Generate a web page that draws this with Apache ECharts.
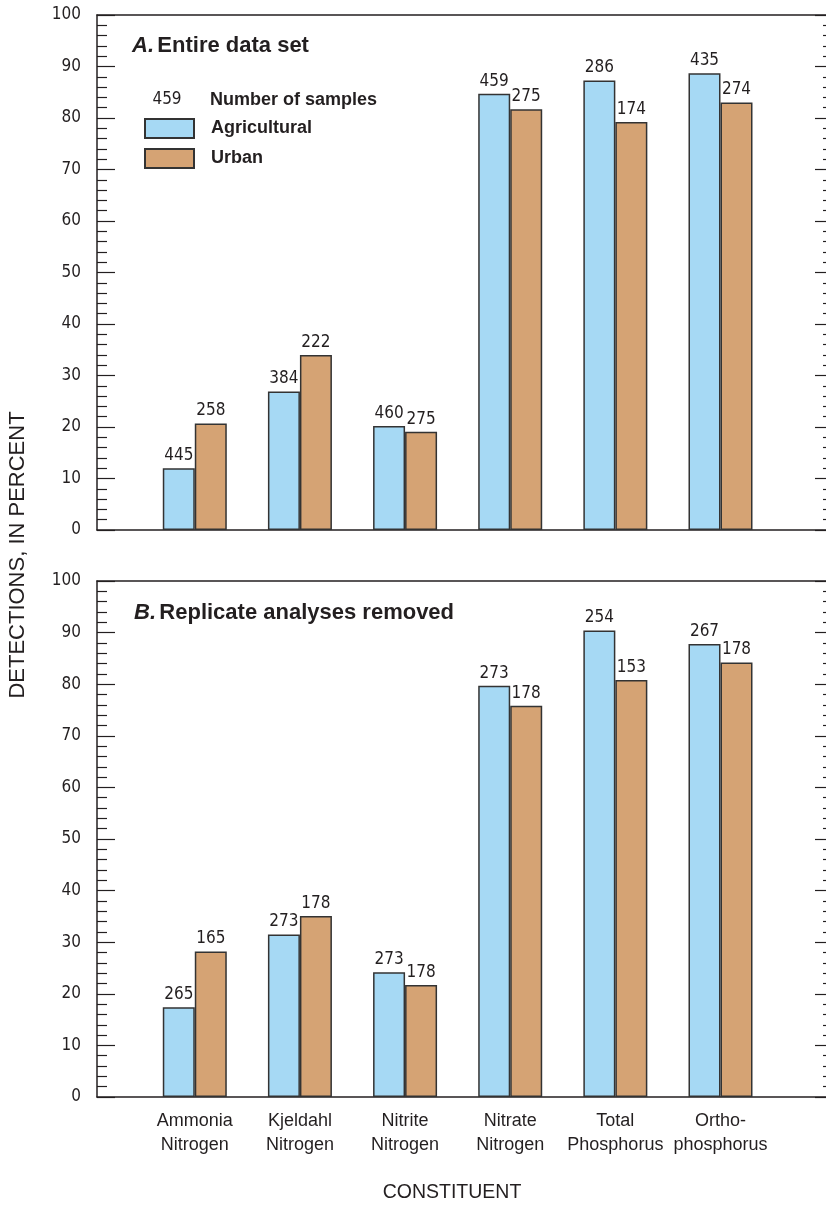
<!DOCTYPE html>
<html>
<head>
<meta charset="utf-8">
<script src="https://cdn.jsdelivr.net/npm/echarts@6/dist/echarts.min.js"></script>
<style>
html,body{margin:0;padding:0;background:#fff;}
#chart{width:826px;height:1208px;}
</style>
</head>
<body>
<div id="chart"></div>
<script>
// ---------- data ----------
const categories = ['Ammonia\nNitrogen', 'Kjeldahl\nNitrogen', 'Nitrite\nNitrogen', 'Nitrate\nNitrogen', 'Total\nPhosphorus', 'Ortho-\nphosphorus'];
const categoryPositions = [1, 2, 3, 4, 5, 6];

// Panel A: Entire data set (percent detections)
const agriculturalA = [12.0, 26.9, 20.2, 84.7, 87.3, 88.7];
const urbanA        = [20.7, 34.0, 19.1, 81.7, 79.2, 83.0];
const agriculturalSamplesA = [445, 384, 460, 459, 286, 435];
const urbanSamplesA        = [258, 222, 275, 275, 174, 274];

// Panel B: Replicate analyses removed (percent detections)
const agriculturalB = [17.4, 31.5, 24.2, 79.7, 90.4, 87.8];
const urbanB        = [28.2, 35.1, 21.7, 75.8, 80.8, 84.2];
const agriculturalSamplesB = [265, 273, 273, 273, 254, 267];
const urbanSamplesB        = [165, 178, 178, 178, 153, 178];

const yMin = 0, yMax = 100, yInterval = 10;
const xMin = 0.07, xMax = 7.07;

// ---------- styling ----------
const NUM_FONT = '"Liberation Sans Narrow", "DejaVu Sans Condensed", "Liberation Sans", sans-serif';
const TXT_FONT = '"Liberation Sans", Arial, sans-serif';
const INK = '#231f20';
const BLUE = '#a6d9f4';
const TAN = '#d5a374';

function xAxes(gridIndex, showLabels) {
  const common = {
    type: 'value', gridIndex: gridIndex, min: xMin, max: xMax,
    splitLine: {show: false},
    axisTick: {show: false},
    axisLine: {show: true, onZero: false, lineStyle: {color: INK, width: 1.5}}
  };
  return [
    Object.assign({}, common, {
      position: 'bottom',
      axisLabel: showLabels ? {
        show: true,
        customValues: categoryPositions,
        formatter: function (v) { return categories[Math.round(v) - 1] || ''; },
        fontFamily: TXT_FONT, fontSize: 18, color: INK, lineHeight: 24, margin: 12
      } : {show: false}
    }),
    Object.assign({}, common, {position: 'top', axisLabel: {show: false}})
  ];
}

function yAxes(gridIndex) {
  const common = {
    type: 'value', gridIndex: gridIndex, min: yMin, max: yMax, interval: yInterval,
    splitLine: {show: false},
    axisLine: {show: true, lineStyle: {color: INK, width: 1.5}},
    axisTick: {show: true, inside: true, length: 18, lineStyle: {color: INK, width: 1.2}},
    minorTick: {show: true, splitNumber: 5, length: 10, lineStyle: {color: INK, width: 1.2}}
  };
  return [
    Object.assign({}, common, {
      position: 'left',
      axisLabel: {show: true, fontFamily: NUM_FONT, fontSize: 17, color: INK, margin: 16}
    }),
    Object.assign({}, common, {position: 'right', axisLabel: {show: false}})
  ];
}

function barSeries(name, values, counts, color, xIdx, yIdx) {
  return {
    name: name, type: 'bar',
    xAxisIndex: xIdx, yAxisIndex: yIdx,
    barWidth: 32, barGap: '0%',
    data: values.map(function (v, i) { return [categoryPositions[i], v]; }),
    itemStyle: {color: color, borderColor: '#333', borderWidth: 1.5},
    label: {
      show: true, position: 'top', distance: 4,
      fontFamily: NUM_FONT, fontSize: 17, color: INK,
      formatter: function (p) { return String(counts[p.dataIndex]); }
    },
    emphasis: {disabled: true},
    animation: false
  };
}

const chart = echarts.init(document.getElementById('chart'), null, {renderer: 'canvas'});

const option = {
  backgroundColor: '#ffffff',
  animation: false,
  grid: [
    {left: 97, top: 15, width: 736, height: 515, containLabel: false, outerBoundsMode: 'none'},
    {left: 97, top: 581, width: 736, height: 516, containLabel: false, outerBoundsMode: 'none'}
  ],
  xAxis: xAxes(0, false).concat(xAxes(1, true)),
  yAxis: yAxes(0).concat(yAxes(1)),
  legend: {
    data: ['Agricultural', 'Urban'],
    orient: 'vertical',
    left: 144, top: 118,
    padding: 0,
    itemWidth: 49, itemHeight: 19, itemGap: 9,
    icon: 'rect',
    selectedMode: false,
    textStyle: {fontFamily: TXT_FONT, fontWeight: 'bold', fontSize: 18, color: INK, padding: [0, 0, 0, 12]}
  },
  series: [
    barSeries('Agricultural', agriculturalA, agriculturalSamplesA, BLUE, 0, 0),
    barSeries('Urban', urbanA, urbanSamplesA, TAN, 0, 0),
    barSeries('Agricultural', agriculturalB, agriculturalSamplesB, BLUE, 2, 2),
    barSeries('Urban', urbanB, urbanSamplesB, TAN, 2, 2)
  ],
  graphic: [
    {
      type: 'text', left: 132, top: 35,
      style: {
        text: '{a|A.} {b|Entire data set}',
        rich: {
          a: {fontFamily: TXT_FONT, fontWeight: 'bold', fontStyle: 'italic', fontSize: 22, fill: INK},
          b: {fontFamily: TXT_FONT, fontWeight: 'bold', fontSize: 22, fill: INK}
        }
      }
    },
    {
      type: 'text', left: 134, top: 602,
      style: {
        text: '{a|B.} {b|Replicate analyses removed}',
        rich: {
          a: {fontFamily: TXT_FONT, fontWeight: 'bold', fontStyle: 'italic', fontSize: 22, fill: INK},
          b: {fontFamily: TXT_FONT, fontWeight: 'bold', fontSize: 22, fill: INK}
        }
      }
    },
    {
      type: 'text', x: 167, y: 100,
      style: {text: '459', fontFamily: NUM_FONT, fontSize: 17, fill: INK, align: 'center', verticalAlign: 'middle'}
    },
    {
      type: 'text', x: 210, y: 100,
      style: {text: 'Number of samples', fontFamily: TXT_FONT, fontWeight: 'bold', fontSize: 18, fill: INK, align: 'left', verticalAlign: 'middle'}
    },
    {
      type: 'text', x: 18, y: 555, rotation: Math.PI / 2,
      style: {text: 'DETECTIONS, IN PERCENT', fontFamily: TXT_FONT, fontSize: 22, fill: INK, align: 'center', verticalAlign: 'middle'}
    },
    {
      type: 'text', x: 452, y: 1193,
      style: {text: 'CONSTITUENT', fontFamily: TXT_FONT, fontSize: 19.5, fill: INK, align: 'center', verticalAlign: 'middle'}
    }
  ]
};

chart.setOption(option);
</script>
</body>
</html>
